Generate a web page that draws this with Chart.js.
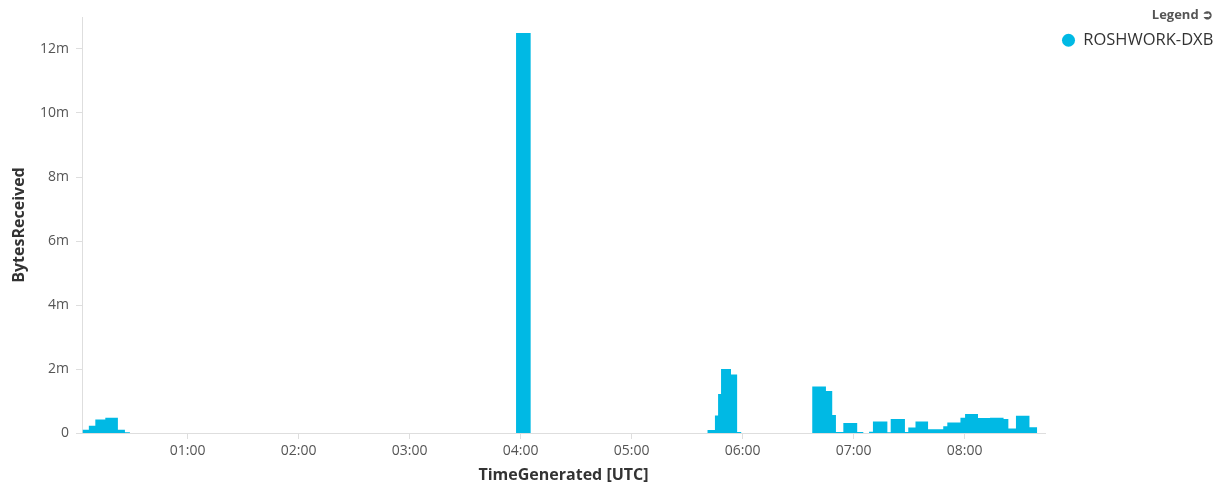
<!DOCTYPE html>
<html lang="en">
<head>
  <meta charset="UTF-8" />
  <title>BytesReceived</title>
  <style>
    html, body { margin: 0; padding: 0; background: #fff; }
    #wrap { width: 1231px; height: 487px; }
  </style>
</head>
<body>
  <div id="wrap"><canvas id="myChart"></canvas></div>

  <script src="https://cdn.jsdelivr.net/npm/chart.js"></script>
  <script>
    // start of each bin, minutes after 00:00 UTC (a bin lasts until the next start)
    const binStart = [
      3.2, 6.6, 10.1, 15.5, 22.3, 26.1, 28.8,
      237.5, 245.4,
      341.0, 345.0, 346.7, 348.3, 353.7, 357.0, 359.2,
      397.6, 405.0, 408.4, 410.4, 414.4, 421.9, 425.2, 428.3, 430.4, 438.2,
      440.0, 447.7, 449.5, 453.4, 460.2, 468.4, 470.6, 477.7, 480.2, 487.2,
      493.7, 501.0, 503.6, 507.7, 515.0, 519.2
    ];
    const bytesReceived = [
      100000, 230000, 420000, 480000, 100000, 20000, 0,
      12500000, 0,
      90000, 550000, 1220000, 2000000, 1830000, 30000, 0,
      1450000, 1310000, 560000, 30000, 310000, 30000, 0, 40000, 360000, 20000,
      440000, 30000, 170000, 360000, 120000, 210000, 330000, 480000, 590000, 470000,
      480000, 440000, 140000, 540000, 180000, 0
    ];
    const seriesName = 'ROSHWORK-DXB';
    const hourTicks = [60, 120, 180, 240, 300, 360, 420, 480];
    const byteTicks = [0, 2e6, 4e6, 6e6, 8e6, 10e6, 12e6];

    const cyan = '#00b9e4';
    const axisGray = '#dedede';

    Chart.defaults.font.family = "'Open Sans', sans-serif";
    Chart.defaults.color = '#555';

    const pad2 = (n) => String(n).padStart(2, '0');

    var ctx = document.getElementById('myChart').getContext('2d');
    var myChart = new Chart(ctx, {
      type: 'line',
      data: {
        datasets: [{
          label: seriesName,
          data: binStart.map((t, i) => ({ x: t, y: bytesReceived[i] })),
          stepped: 'before',
          fill: 'origin',
          backgroundColor: cyan,
          borderColor: cyan,
          borderWidth: 0,
          pointRadius: 0,
          pointStyle: 'circle',
          pointBorderWidth: 0
        }]
      },
      options: {
        responsive: true,
        maintainAspectRatio: false,
        animation: false,
        layout: { padding: { top: 0, right: 18, bottom: 0, left: 0 } },
        plugins: {
          tooltip: { enabled: false },
          // empty title only keeps the plot 17px below the top edge
          title: {
            display: true,
            text: '',
            fullSize: false,
            font: { size: 10 },
            padding: { top: 5, bottom: 0 }
          },
          legend: {
            position: 'right',
            align: 'start',
            maxWidth: 168,
            title: {
              display: true,
              text: 'Legend \u27B2',
              position: 'end',
              color: '#555',
              font: { size: 13, weight: 'bold' },
              padding: { top: 9, bottom: -9.6 }
            },
            labels: {
              usePointStyle: true,
              boxWidth: 13,
              boxHeight: 9.2,
              padding: 17,
              color: '#333',
              font: { size: 16.5 }
            }
          }
        },
        scales: {
          x: {
            type: 'linear',
            min: 2.9,
            max: 523.4,
            afterFit: (s) => { s.height = 54; },
            afterBuildTicks: (s) => { s.ticks = hourTicks.map(v => ({ value: v })); },
            grid: { drawOnChartArea: false, tickLength: 6, color: axisGray },
            border: { color: axisGray },
            ticks: {
              padding: 4,
              maxRotation: 0,
              font: { size: 14 },
              callback: (v) => pad2(Math.floor(v / 60)) + ':' + pad2(v % 60)
            },
            title: {
              display: true,
              text: 'TimeGenerated [UTC]',
              color: '#333',
              font: { size: 16, weight: 'bold' },
              padding: { top: 0, bottom: 2 }
            }
          },
          y: {
            min: 0,
            max: 13e6,
            afterFit: (s) => { s.width = 82; },
            afterBuildTicks: (s) => { s.ticks = byteTicks.map(v => ({ value: v })); },
            grid: { drawOnChartArea: false, tickLength: 6, color: axisGray },
            border: { color: axisGray },
            ticks: {
              padding: 7,
              font: { size: 14 },
              callback: (v) => v === 0 ? '0' : (v / 1e6) + 'm'
            },
            title: {
              display: true,
              text: 'BytesReceived',
              color: '#333',
              font: { size: 16, weight: 'bold' },
              padding: { top: 10, bottom: 0 }
            }
          }
        }
      }
    });
  </script>
</body>
</html>
